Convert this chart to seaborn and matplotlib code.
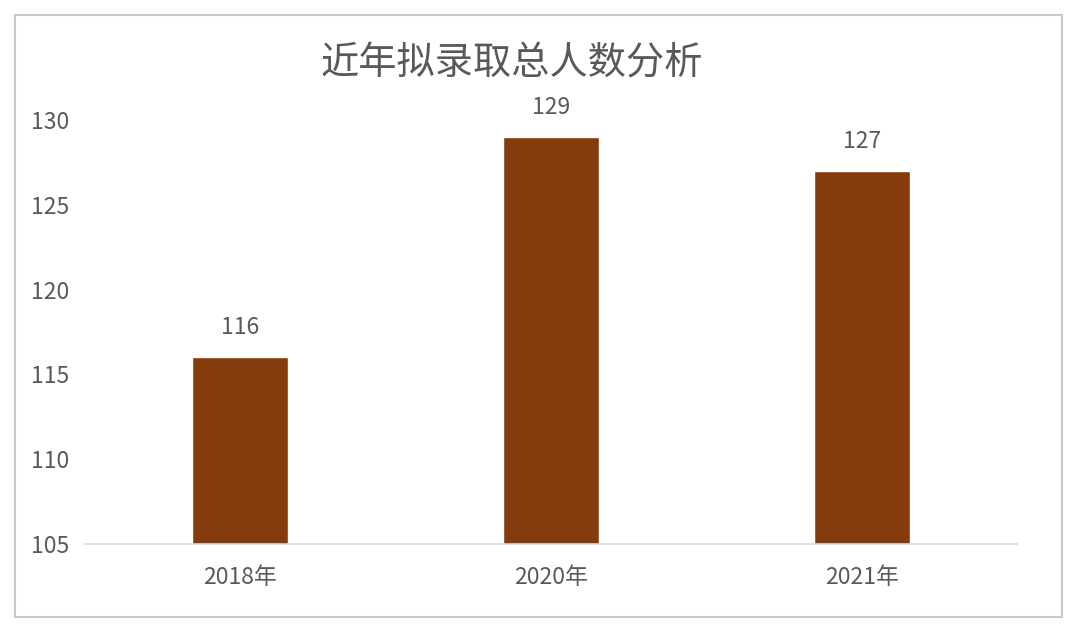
import matplotlib
matplotlib.use("Agg")
import matplotlib.pyplot as plt
import pandas as pd
import seaborn as sns
from matplotlib.patches import Rectangle

years = ["2018年", "2020年", "2021年"]
admitted = [116, 129, 127]
y_ticks = [105, 110, 115, 120, 125, 130]
title = "近年拟录取总人数分析"

bar_color = "#843C0C"
text_color = "#595959"

sns.set_theme(style="white")
plt.rcParams["font.family"] = ["Noto Sans CJK SC", "DejaVu Sans"]

df = pd.DataFrame({"year": years, "count": admitted})

fig = plt.figure(figsize=(10.8, 6.32), dpi=100)
ax = fig.add_axes([0.0787, 0.1392, 0.863, 0.671])

sns.barplot(df, x="year", y="count", color=bar_color, saturation=1, width=0.31, ax=ax)
ax.bar_label(ax.containers[0], padding=13, fontsize=16.5, color=text_color)

ax.set_ylim(105, 130)
ax.set_yticks(y_ticks)
ax.set_xlim(-0.5, 2.5)
ax.set_xlabel("")
ax.set_ylabel("")
ax.tick_params(axis="y", labelsize=16.5, colors=text_color, length=0, pad=11)
ax.tick_params(axis="x", labelsize=16.5, colors=text_color, length=0, pad=16)

sns.despine(ax=ax, left=True, top=True, right=True)
ax.spines["bottom"].set_color("#d9d9d9")
ax.spines["bottom"].set_linewidth(1.2)

fig.text(0.474, 0.899, title, ha="center", va="center", fontsize=27.5, color=text_color)

# outer chart frame
fig.patches.append(Rectangle((15 / 1080, 15 / 632), 1047 / 1080, 602 / 632,
                             transform=fig.transFigure, fill=False,
                             edgecolor="#c9c9d6", linewidth=1.5))

plt.savefig("out.png", dpi=100)
